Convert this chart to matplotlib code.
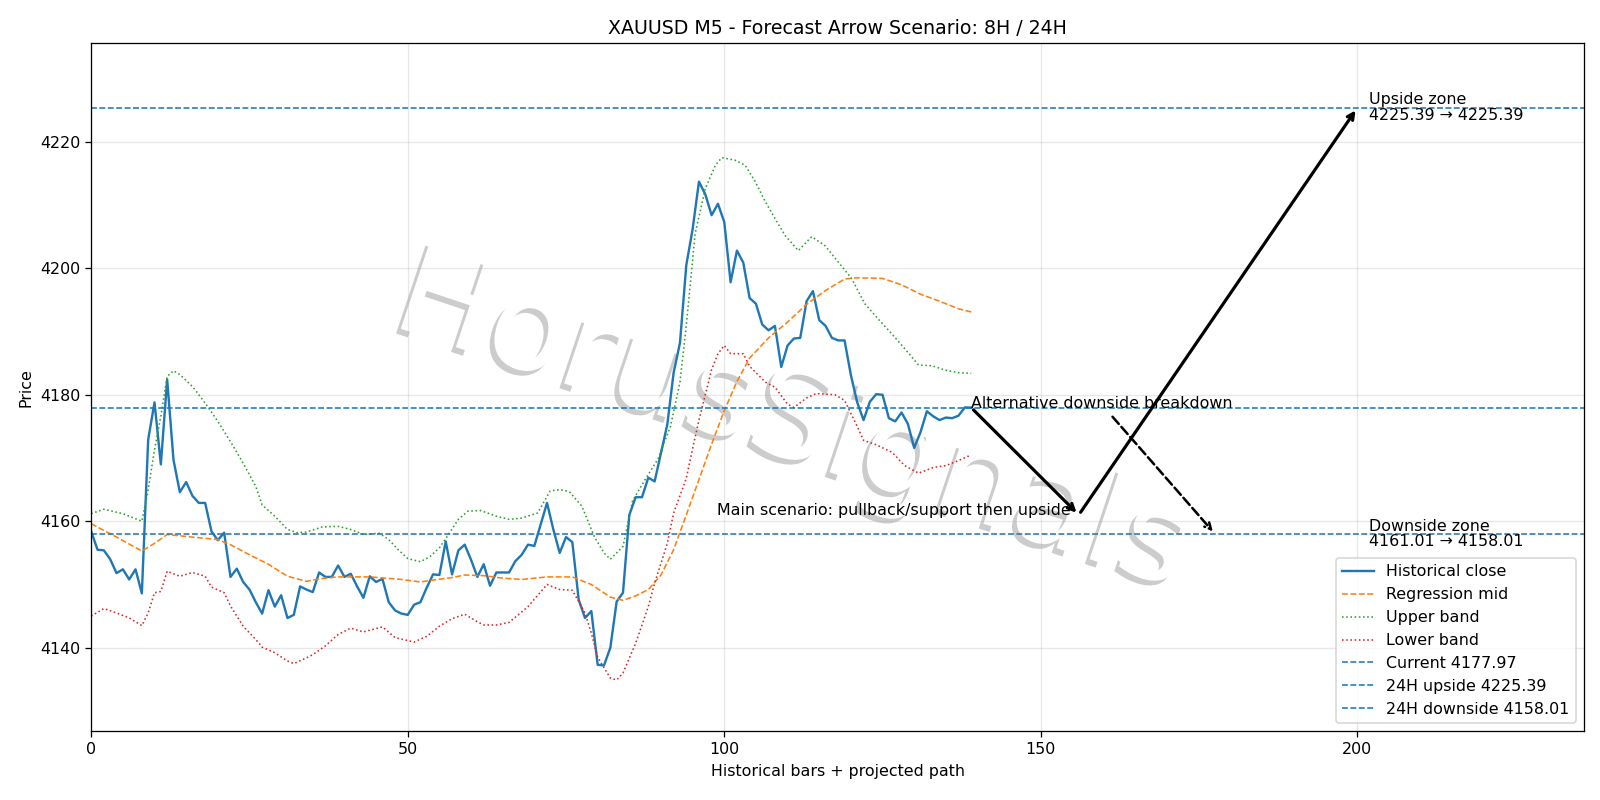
import numpy as np
import matplotlib
matplotlib.use("Agg")
import matplotlib.pyplot as plt
import matplotlib.patheffects as pe

# historical M5 closes (bar 0..139)
close = [
    4158.4, 4155.5, 4155.4, 4154.0, 4151.8, 4152.4, 4150.8, 4152.4, 4148.6, 4172.9,
    4178.8, 4169.0, 4182.4, 4169.7, 4164.6, 4166.2, 4164.0, 4162.9, 4162.9, 4158.4,
    4157.0, 4158.2, 4151.2, 4152.5, 4150.4, 4149.2, 4147.2, 4145.4, 4149.1, 4146.5,
    4148.3, 4144.7, 4145.2, 4149.7, 4149.2, 4148.8, 4151.9, 4151.2, 4151.2, 4153.0,
    4151.2, 4151.7, 4149.7, 4147.9, 4151.3, 4150.4, 4150.9, 4147.2, 4145.9, 4145.4,
    4145.2, 4146.8, 4147.2, 4149.5, 4151.6, 4151.5, 4156.8, 4151.6, 4155.4, 4156.3,
    4153.9, 4151.2, 4153.2, 4149.8, 4151.9, 4151.9, 4151.9, 4153.7, 4154.7, 4156.3,
    4156.1, 4159.5, 4162.9, 4158.7, 4155.0, 4157.5, 4156.7, 4147.6, 4144.7, 4145.8,
    4137.3, 4137.2, 4140.0, 4147.3, 4148.7, 4161.0, 4163.8, 4163.8, 4166.9, 4166.3,
    4170.8, 4175.3, 4183.5, 4188.2, 4200.5, 4206.2, 4213.7, 4211.7, 4208.4, 4210.2,
    4207.3, 4197.8, 4202.8, 4200.9, 4195.3, 4194.4, 4191.1, 4190.2, 4190.9, 4184.4,
    4187.8, 4188.9, 4189.0, 4194.8, 4196.4, 4191.8, 4190.9, 4189.0, 4188.6, 4188.6,
    4183.1, 4178.8, 4176.0, 4178.9, 4180.1, 4180.0, 4176.3, 4175.8, 4177.2, 4175.4,
    4171.6, 4174.1, 4177.4, 4176.6, 4176.0, 4176.4, 4176.3, 4176.7, 4178.0, 4177.97,
]

# regression mid
mid_x = [0, 4, 8, 10, 12, 14, 17, 20, 22, 25, 28, 31, 34, 36, 39, 44, 49, 52, 54, 57,
         59, 62, 65, 68, 72, 76, 79, 82, 84, 86, 88, 90, 92, 94, 96, 98, 100, 102, 104,
         107, 110, 113, 116, 119, 121, 125, 128, 131, 134, 137, 139]
mid_y = [4159.6, 4157.5, 4155.3, 4156.5, 4157.9, 4157.7, 4157.4, 4157.1, 4156.3, 4154.7,
         4153.2, 4151.3, 4150.5, 4150.9, 4151.2, 4151.2, 4150.8, 4150.4, 4150.7, 4151.1,
         4151.5, 4151.4, 4151.0, 4150.8, 4151.2, 4151.2, 4150.0, 4148.0, 4147.5, 4148.2,
         4149.2, 4151.5, 4155.5, 4161.0, 4166.6, 4172.2, 4177.5, 4182.1, 4185.8,
         4189.0, 4191.5, 4194.3, 4196.5, 4198.3, 4198.5, 4198.4, 4197.4, 4195.9, 4194.8,
         4193.6, 4193.1]

# upper band
up_x = [0, 2, 5, 7, 8, 9, 10, 11, 12, 13, 14, 16, 18, 20, 22, 24, 26, 27, 29, 31,
        32.5, 34, 36.5, 39, 41, 43, 45.5, 47, 48.5, 50, 52, 53.5, 55, 56.5, 58, 59.5,
        61.5, 64, 66, 68, 70.5, 72.5, 74, 75.5, 77.5, 79.5, 81, 82, 84, 85.5, 87.5,
        89.5, 91.5, 93, 94, 95.4, 97, 98.6, 99.6, 101.7, 103.3, 104.9, 106.5, 108,
        109.6, 111.7, 113.8, 115.9, 118, 120.1, 122.2, 124.3, 126.4, 128.5, 130.7,
        132.8, 134.9, 137, 139]
up_y = [4161.2, 4161.9, 4161.2, 4160.4, 4160.0, 4165.0, 4171.3, 4176.6, 4182.9, 4183.8,
        4183.2, 4181.3, 4178.7, 4175.8, 4172.6, 4169.2, 4165.5, 4162.6, 4160.8, 4158.7,
        4158.2, 4158.3, 4159.1, 4159.2, 4158.7, 4157.9, 4158.1, 4157.1, 4155.5, 4154.1,
        4153.6, 4154.4, 4155.8, 4158.0, 4160.3, 4161.6, 4161.7, 4160.8, 4160.3, 4160.5,
        4161.3, 4164.8, 4165.0, 4164.7, 4162.4, 4157.5, 4155.0, 4154.0, 4156.0, 4163.2,
        4166.6, 4169.8, 4175.0, 4182.0, 4191.0, 4205.5, 4212.6, 4216.3, 4217.5, 4217.1,
        4216.3, 4213.7, 4210.5, 4207.9, 4205.2, 4202.8, 4205.0, 4203.6, 4201.0, 4198.4,
        4194.4, 4192.0, 4189.7, 4187.3, 4184.7, 4184.6, 4183.9, 4183.5, 4183.4]

# lower band
lo_x = [0, 2, 4, 6, 8, 9, 10, 11, 12, 14, 16, 18, 19, 21, 22, 24, 26, 27, 29, 31, 32,
        34, 35, 37, 39, 41, 43, 46, 48, 51, 53, 55, 57, 59, 61, 62, 64, 66, 69, 72, 74,
        76, 78, 79, 80, 82, 83, 84, 86, 88, 89, 91, 92, 94, 95, 96, 97, 98, 99, 100,
        101, 103, 104, 106.5, 108, 110, 111, 113, 114.5, 117.5, 119, 121, 122, 124,
        126.5, 128.5, 130.7, 133, 135, 137, 139]
lo_y = [4145.0, 4146.2, 4145.5, 4144.7, 4143.5, 4145.5, 4148.7, 4148.9, 4152.1, 4151.3,
        4151.9, 4151.3, 4149.6, 4148.7, 4146.6, 4143.4, 4141.3, 4140.1, 4139.2, 4137.9,
        4137.5, 4138.4, 4138.9, 4140.3, 4142.1, 4143.1, 4142.5, 4143.3, 4141.6, 4140.9,
        4141.8, 4143.4, 4144.6, 4145.3, 4144.1, 4143.6, 4143.6, 4144.0, 4146.5, 4150.0,
        4149.2, 4149.1, 4145.5, 4142.3, 4138.5, 4135.2, 4134.9, 4136.0, 4140.7, 4146.5,
        4150.2, 4156.5, 4161.3, 4166.8, 4171.5, 4176.0, 4180.0, 4184.0, 4186.5, 4187.8,
        4186.5, 4186.5, 4184.5, 4182.0, 4181.2, 4178.5, 4178.0, 4179.5, 4180.2, 4180.0,
        4179.1, 4175.0, 4172.8, 4172.1, 4170.9, 4168.8, 4167.6, 4168.5, 4168.8, 4169.6,
        4170.5]

current = 4177.97
up_24h = 4225.39
dn_24h = 4158.01
pivot = 4161.01
pivot_bar = 156
target_bar = 200
alt_start = (161, 4176.9)
alt_end = (177.5, dn_24h)

fig, ax = plt.subplots(figsize=(14, 7), dpi=1600 / 14)
x = np.arange(len(close))

ax.plot(x, close, lw=1.5, label="Historical close")
ax.plot(mid_x, mid_y, "--", lw=1.0, label="Regression mid")
ax.plot(up_x, up_y, ":", lw=1.0, label="Upper band")
ax.plot(lo_x, lo_y, ":", lw=1.0, label="Lower band")
ax.axhline(current, ls="--", lw=1, label=f"Current {current:.2f}")
ax.axhline(up_24h, ls="--", lw=1, label=f"24H upside {up_24h:.2f}")
ax.axhline(dn_24h, ls="--", lw=1, label=f"24H downside {dn_24h:.2f}")

last = len(close) - 1
arr = dict(arrowstyle="->", lw=2, color="black")
ax.annotate("", xy=(pivot_bar, pivot), xytext=(last, current), arrowprops=arr)
ax.annotate("", xy=(target_bar, up_24h), xytext=(pivot_bar, pivot), arrowprops=arr)
ax.annotate("", xy=alt_end, xytext=alt_start,
            arrowprops=dict(arrowstyle="->", lw=1.6, ls="--", color="black"))

ax.text(last, current, "Alternative downside breakdown", ha="left", va="baseline")
ax.text(pivot_bar - 1.2, pivot, "Main scenario: pullback/support then upside",
        ha="right", va="baseline")
ax.text(201.8, up_24h, f"Upside zone\n{up_24h:.2f} \u2192 {up_24h:.2f}",
        ha="left", va="center", linespacing=1.05)
ax.text(201.8, dn_24h, f"Downside zone\n{pivot:.2f} \u2192 {dn_24h:.2f}",
        ha="left", va="center", linespacing=1.05)

# watermark
ax.text(0.47, 0.448, "HorusSignals", transform=ax.transAxes, fontsize=80,
        color="white", rotation=-18.5, ha="center", va="center", zorder=1,
        path_effects=[pe.withSimplePatchShadow(offset=(-3, -3),
                                               shadow_rgbFace="gray", alpha=0.4)])

ax.set_xlim(0, 235.8)
ax.set_ylim(4126.8, 4235.6)
ax.set_title("XAUUSD M5 - Forecast Arrow Scenario: 8H / 24H")
ax.set_xlabel("Historical bars + projected path")
ax.set_ylabel("Price")
ax.grid(True, alpha=0.3)
ax.legend(loc="lower right")

plt.subplots_adjust(left=0.057, right=0.99, top=0.946, bottom=0.086)
plt.savefig("out.png")
